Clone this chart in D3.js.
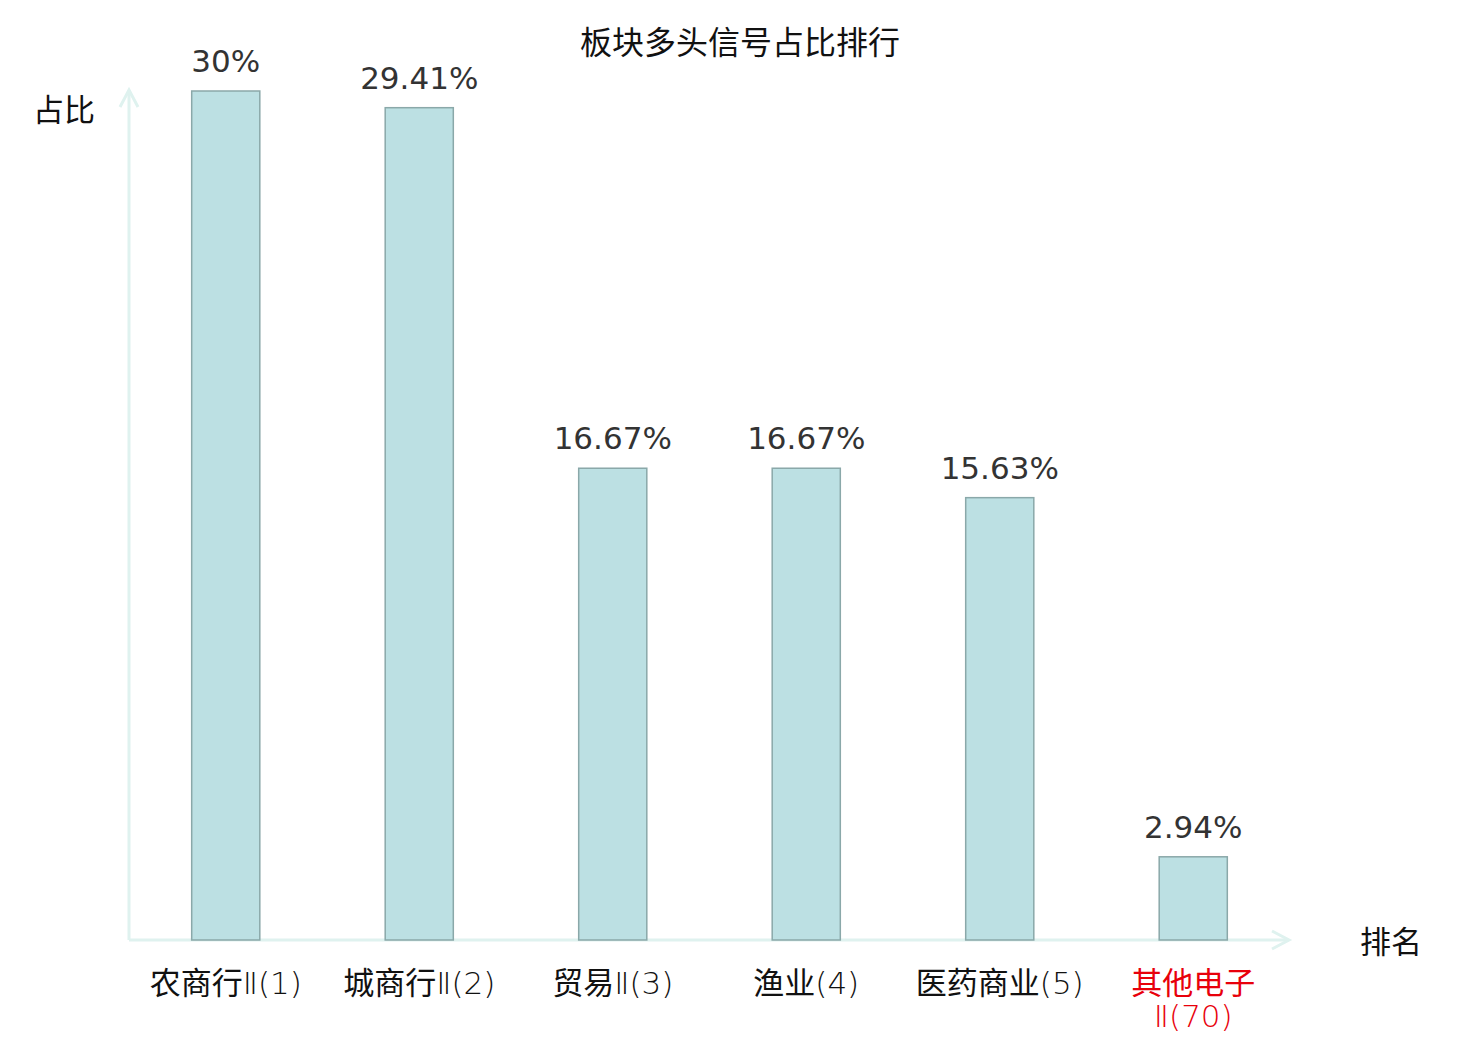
<!DOCTYPE html>
<html><head><meta charset="utf-8">
<script src="https://cdn.jsdelivr.net/npm/d3@7"></script>
<style>body{margin:0;background:#fff}svg{display:block}</style>
</head><body>
<svg id="c" width="1480" height="1040"></svg>
<script>
const categories = ["农商行Ⅱ(1)", "城商行Ⅱ(2)", "贸易Ⅱ(3)", "渔业(4)", "医药商业(5)", "其他电子Ⅱ(70)"];
const values = [30, 29.41, 16.67, 16.67, 15.63, 2.94];
const valueLabels = ["30%", "29.41%", "16.67%", "16.67%", "15.63%", "2.94%"];
const highlight = [false, false, false, false, false, true];
const title = "板块多头信号占比排行";
const yTitle = "占比";
const xTitle = "排名";

const svg = d3.select("#c");
const cjk = "'Noto Sans CJK SC', 'Noto Sans', sans-serif";
const lat = "'DejaVu Sans', sans-serif";
const x0 = 129, x1 = 1290, yBase = 940, yTop = 91;
const x = d3.scaleBand().domain(categories).range([x0, x1]).paddingInner(0.648).paddingOuter(0.324);
const y = d3.scaleLinear().domain([0, 30]).range([yBase, yTop]);
const axisCol = "#dff2ef";

svg.append("text").attr("x", 740).attr("y", 54).attr("text-anchor", "middle")
  .attr("font-family", cjk).attr("font-size", 32).attr("fill", "#111").text(title);

// axes
svg.append("line").attr("x1", x0).attr("x2", x0).attr("y1", yBase).attr("y2", 90)
  .attr("stroke", axisCol).attr("stroke-width", 3);
svg.append("path").attr("d", `M${x0-9},${107} L${x0},${90} L${x0+9},${107}`)
  .attr("fill", "none").attr("stroke", axisCol).attr("stroke-width", 3);
svg.append("line").attr("x1", x0).attr("x2", 1289).attr("y1", yBase).attr("y2", yBase)
  .attr("stroke", axisCol).attr("stroke-width", 3);
svg.append("path").attr("d", `M${1272},${931} L${1289},${yBase} L${1272},${949}`)
  .attr("fill", "none").attr("stroke", axisCol).attr("stroke-width", 3);

// bars
svg.selectAll("rect.bar").data(categories).join("rect")
  .attr("x", d => x(d)).attr("width", x.bandwidth())
  .attr("y", (d, i) => y(values[i])).attr("height", (d, i) => yBase - y(values[i]))
  .attr("fill", "#bce0e3").attr("stroke", "#8aa8a9").attr("stroke-width", 1.5);

svg.selectAll("text.val").data(categories).join("text")
  .attr("x", d => x(d) + x.bandwidth() / 2).attr("y", (d, i) => y(values[i]) - 19)
  .attr("text-anchor", "middle").attr("font-family", lat)
  .attr("font-size", 31).attr("fill", "#333").text((d, i) => valueLabels[i]);

// category labels: CJK part + light latin tail
function split(s) {
  const m = s.match(/^([\u4e00-\u9fff]+)(.*)$/);
  return m ? [m[1], m[2]] : [s, ""];
}
categories.forEach((c, i) => {
  const cx = x(c) + x.bandwidth() / 2;
  const [a, b] = split(c);
  const col = highlight[i] ? "#e8000b" : "#111";
  if (highlight[i]) {
    svg.append("text").attr("x", cx).attr("y", 994).attr("text-anchor", "middle")
      .attr("font-family", cjk).attr("font-size", 31).attr("fill", col).text(a);
    svg.append("text").attr("x", cx).attr("y", 1027).attr("text-anchor", "middle")
      .attr("font-family", lat).attr("font-weight", 200).attr("font-size", 31)
      .attr("fill", "#e8000b").text(b);
  } else {
    const t = svg.append("text").attr("x", cx).attr("y", 994).attr("text-anchor", "middle")
      .attr("font-size", 31).attr("fill", col);
    t.append("tspan").attr("font-family", cjk).text(a);
    t.append("tspan").attr("font-family", lat).attr("font-weight", 200).text(b);
  }
});

svg.append("text").attr("x", 33).attr("y", 121).attr("font-family", cjk)
  .attr("font-size", 31).attr("fill", "#111").text(yTitle);
svg.append("text").attr("x", 1360).attr("y", 953).attr("font-family", cjk)
  .attr("font-size", 31).attr("fill", "#111").text(xTitle);
</script>
</body></html>
